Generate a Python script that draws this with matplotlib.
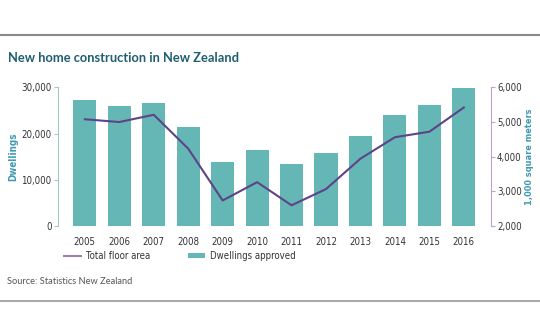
import matplotlib
matplotlib.use("Agg")
import matplotlib.pyplot as plt
from matplotlib.lines import Line2D
from matplotlib.patches import Patch
from matplotlib.ticker import FuncFormatter
from matplotlib.font_manager import FontProperties

years = ["2005", "2006", "2007", "2008", "2009", "2010", "2011", "2012", "2013", "2014", "2015", "2016"]
dwellings = [27200, 26000, 26700, 21400, 13800, 16400, 13400, 15700, 19400, 24100, 26100, 29800]
floor_area = [5080, 5000, 5210, 4230, 2730, 3260, 2590, 3060, 3940, 4560, 4720, 5420]
left_ticks = [0, 10000, 20000, 30000]
right_ticks = [2000, 3000, 4000, 5000, 6000]

BAR = "#64b7b4"
LINE = "#5f4388"
TEAL_TXT = "#3f9ab0"
TITLE = "#1f5f70"
TICKC = "#333333"


def narrow(size, weight="normal"):
    return FontProperties(family="DejaVu Sans", stretch="condensed", size=size, weight=weight)


fig = plt.figure(figsize=(5.4, 3.34), dpi=100)
fig.patch.set_facecolor("white")

ax = fig.add_axes([0.108, 0.3243, 0.8007, 0.4138])
x = list(range(len(years)))
ax.bar(x, dwellings, width=0.67, color=BAR, zorder=2)
ax.set_xlim(-0.77, 11.78)
ax.set_ylim(0, 30000)
ax.set_yticks(left_ticks)
ax.yaxis.set_major_formatter(FuncFormatter(lambda v, p: f"{int(v):,}"))
ax.set_xticks(x)
ax.set_xticklabels(years)
ax.tick_params(axis="x", length=0, pad=8, labelcolor=TICKC)
ax.tick_params(axis="y", length=3, width=0.8, color="#a9c6c6", pad=2, labelcolor=TICKC)
for lab in ax.get_xticklabels() + ax.get_yticklabels():
    lab.set_fontproperties(narrow(6.9))
for s in ["top", "bottom", "right"]:
    ax.spines[s].set_visible(False)
ax.spines["left"].set_color("#a9c6c6")
ax.spines["left"].set_linewidth(0.8)

ax2 = ax.twinx()
ax2.plot(x, floor_area, color=LINE, lw=1.5, zorder=3)
ax2.set_ylim(2000, 6000)
ax2.set_yticks(right_ticks)
ax2.yaxis.set_major_formatter(FuncFormatter(lambda v, p: f"{int(v):,}"))
ax2.tick_params(axis="y", length=3, width=0.8, color="#bba3cc", pad=1.5, labelcolor=TICKC)
for lab in ax2.get_yticklabels():
    lab.set_fontproperties(narrow(6.9))
for s in ["top", "bottom", "left"]:
    ax2.spines[s].set_visible(False)
ax2.spines["right"].set_color("#bba3cc")
ax2.spines["right"].set_linewidth(0.8)

fig.text(13 / 540, 1 - 157 / 334, "Dwellings", color=TEAL_TXT, fontproperties=narrow(7, "bold"),
         rotation=90, va="center", ha="center")
fig.text(529 / 540, 1 - 157 / 334, "1,000 square meters", color=TEAL_TXT, fontproperties=narrow(6.6, "bold"),
         rotation=90, va="center", ha="center")

fig.text(0.014, 0.826, "New home construction in New Zealand", color=TITLE, fontsize=9.3,
         family=["Lato", "DejaVu Sans"], fontweight="bold", va="center", ha="left")
fig.add_artist(Line2D([0, 1], [1 - 35.3 / 334] * 2, color="#8a8a8a", lw=1.5, transform=fig.transFigure))
fig.add_artist(Line2D([0, 1], [1 - 301 / 334] * 2, color="#9a9a9a", lw=1.2, transform=fig.transFigure))

handles = [Line2D([0], [0], color="#9a7fb0", lw=1.5),
           Patch(facecolor=BAR, edgecolor="none")]
leg = fig.legend(handles, ["Total floor area", "Dwellings approved"], loc="center left",
                 bbox_to_anchor=(64 / 540, 1 - 256 / 334), ncol=2, frameon=False,
                 prop=narrow(6.9), handlelength=1.8, handleheight=0.55,
                 handletextpad=0.5, columnspacing=3.9, borderpad=0, borderaxespad=0)
for t in leg.get_texts():
    t.set_color(TICKC)

fig.text(0.013, 1 - 281 / 334, "Source: Statistics New Zealand", color="#555555", fontsize=6.7,
         family=["Lato", "DejaVu Sans"], va="center", ha="left")

fig.savefig("out.png", dpi=100, facecolor="white")
